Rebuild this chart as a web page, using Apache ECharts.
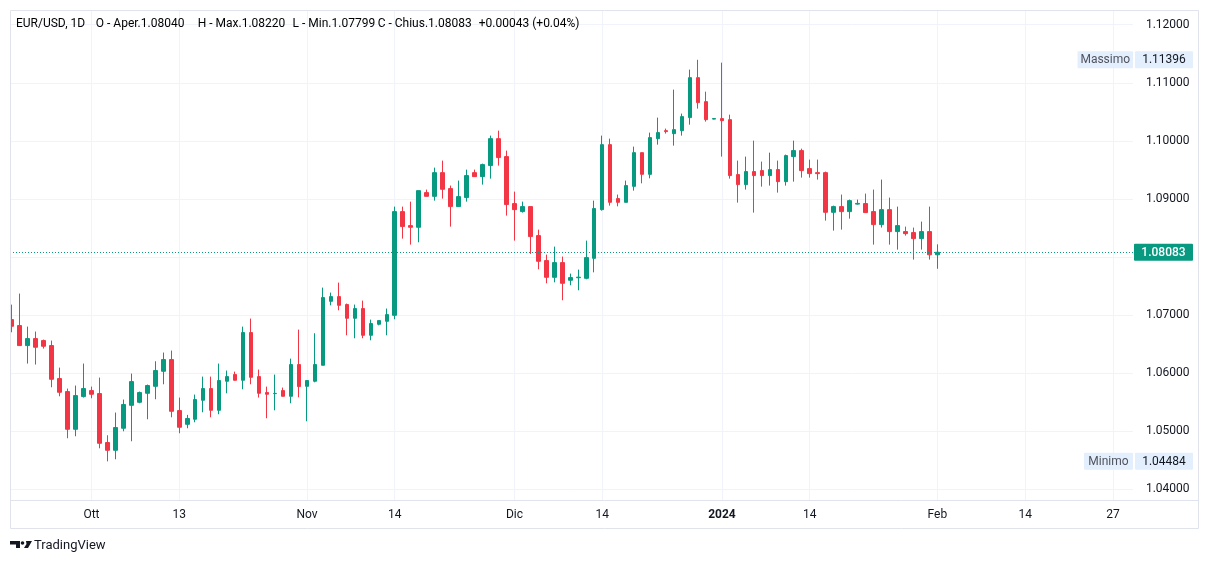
<!DOCTYPE html>
<html><head><meta charset="utf-8">
<script src="https://cdn.jsdelivr.net/npm/echarts@6/dist/echarts.min.js"></script>
<style>html,body{margin:0;padding:0;background:#fff}#c{width:1209px;height:564px}</style>
</head><body><div id="c"></div>
<script>
const symbolName = 'EUR/USD, 1D';
// trading days (Sun–Fri) shown on the time axis, incl. the empty future area
const calendar = [
  ['2023-09', [19,20,21,22,24,25,26,27,28,29]],
  ['2023-10', [1,2,3,4,5,6,8,9,10,11,12,13,15,16,17,18,19,20,22,23,24,25,26,27,29,30,31]],
  ['2023-11', [1,2,3,5,6,7,8,9,10,12,13,14,15,16,17,19,20,21,22,23,24,26,27,28,29,30]],
  ['2023-12', [1,3,4,5,6,7,8,10,11,12,13,14,15,17,18,19,20,21,22,24,25,26,27,28,29,31]],
  ['2024-01', [1,2,3,4,5,7,8,9,10,11,12,14,15,16,17,18,19,21,22,23,24,25,26,28,29,30,31]],
  ['2024-02', [1,2,4,5,6,7,8,9,11,12,13,14,15,16,18,19,20,21,22,23,25,26,27,28,29]]
];
const opens = [
 1.06924,1.06821,1.06477,1.06597,1.06563,1.06477,1.05909,1.05685,1.05036,1.05599,
 1.05702,1.05651,1.04808,1.04675,1.05054,1.05449,1.05501,1.05656,1.05776,1.06035,
 1.06236,1.05358,1.05122,1.05209,1.05536,1.05737,1.05363,1.05863,1.05978,1.05880,
 1.06701,1.05943,1.05668,1.05650,1.05702,1.05604,1.06150,1.05776,1.05863,1.06138,
 1.07239,1.07320,1.07183,1.06947,1.07114,1.06654,1.06844,1.06895,1.06998,1.08783,
 1.08542,1.08513,1.09110,1.09046,1.09454,1.09179,1.08869,1.09024,1.09454,1.09385,
 1.09575,1.10039,1.09730,1.08921,1.08783,1.08869,1.08370,1.07940,1.07652,1.07905,
 1.07601,1.07645,1.07635,1.07979,1.08817,1.09936,1.09007,1.08943,1.09218,1.09798,
 1.09425,1.10039,1.10177,1.10125,1.10177,1.10401,1.11089,1.10676,1.10375,1.10384,
 1.10366,1.09420,1.09248,1.09472,1.09489,1.09403,1.09506,1.09299,1.09730,1.09833,
 1.09523,1.09454,1.09454,1.08771,1.08869,1.08783,1.08912,1.08921,1.08783,1.08559,
 1.08817,1.08439,1.08439,1.08422,1.08318,1.08439,1.08040];
const highs = [
 1.07182,1.07372,1.06804,1.06718,1.06580,1.06563,1.06098,1.05737,1.05789,1.06167,
 1.05771,1.05926,1.04933,1.05324,1.05548,1.05995,1.05685,1.05806,1.06207,1.06357,
 1.06391,1.05582,1.05284,1.05634,1.05943,1.05943,1.06167,1.06047,1.06029,1.06804,
 1.06942,1.06064,1.05771,1.05978,1.05754,1.06253,1.06752,1.05875,1.06689,1.07475,
 1.07389,1.07561,1.07200,1.07183,1.07251,1.06924,1.06907,1.07114,1.08869,1.08869,
 1.08955,1.09144,1.09162,1.09540,1.09661,1.09231,1.09317,1.09506,1.09506,1.09609,
 1.10091,1.10177,1.09833,1.09127,1.08955,1.08869,1.08473,1.08043,1.08181,1.08009,
 1.07716,1.07785,1.08284,1.08972,1.10091,1.10039,1.09076,1.09317,1.09902,1.09798,
 1.10143,1.10401,1.10212,1.10883,1.10470,1.11227,1.11396,1.10848,1.10390,1.11347,
 1.10452,1.09661,1.09730,1.10005,1.09644,1.09798,1.09661,1.09764,1.10005,1.09867,
 1.09678,1.09678,1.09472,1.08886,1.09076,1.08990,1.08990,1.09093,1.09162,1.09334,
 1.09024,1.08869,1.08525,1.08508,1.08611,1.08869,1.08220];
const lows = [
 1.06706,1.06470,1.06167,1.06150,1.06425,1.05759,1.05604,1.04882,1.04916,1.05582,
 1.05570,1.04709,1.04484,1.04520,1.05002,1.04830,1.05484,1.05209,1.05553,1.05811,
 1.05243,1.04968,1.05054,1.05157,1.05329,1.05243,1.05295,1.05656,1.05875,1.05725,
 1.05811,1.05582,1.05226,1.05363,1.05604,1.05484,1.05587,1.05174,1.05845,1.06138,
 1.07170,1.07084,1.06654,1.06603,1.06603,1.06568,1.06826,1.06654,1.06930,1.08318,
 1.08215,1.08255,1.09046,1.08972,1.09007,1.08525,1.08869,1.08955,1.09385,1.09248,
 1.09351,1.09575,1.08714,1.08284,1.08766,1.08055,1.07790,1.07549,1.07566,1.07257,
 1.07515,1.07429,1.07618,1.07738,1.08800,1.08886,1.08874,1.08943,1.09144,1.09270,
 1.09356,1.09936,1.10126,1.09919,1.10091,1.10280,1.10556,1.10332,1.10370,1.09730,
 1.09351,1.08938,1.09162,1.08766,1.09213,1.09231,1.09110,1.09231,1.09299,1.09368,
 1.09368,1.09334,1.08628,1.08456,1.08473,1.08663,1.08904,1.08766,1.08215,1.08508,
 1.08215,1.08129,1.08370,1.07957,1.08129,1.07957,1.07799];
const closes = [
 1.06809,1.06477,1.06597,1.06448,1.06465,1.05897,1.05673,1.05036,1.05616,1.05737,
 1.05639,1.04795,1.04675,1.05066,1.05462,1.05857,1.05668,1.05789,1.06047,1.06236,
 1.05346,1.05071,1.05221,1.05548,1.05737,1.05363,1.05875,1.05943,1.05880,1.06701,
 1.05931,1.05656,1.05639,1.05655,1.05604,1.06150,1.05771,1.05875,1.06150,1.07303,
 1.07320,1.07170,1.06947,1.07114,1.06654,1.06856,1.06907,1.07010,1.08783,1.08525,
 1.08513,1.09144,1.09046,1.09454,1.09167,1.08869,1.09041,1.09403,1.09385,1.09592,
 1.10039,1.09713,1.08904,1.08817,1.08869,1.08353,1.07928,1.07652,1.07905,1.07549,
 1.07647,1.07655,1.07991,1.08835,1.09936,1.08943,1.08943,1.09231,1.09798,1.09425,
 1.10057,1.10143,1.10160,1.10194,1.10418,1.11089,1.10659,1.10366,1.10385,1.10349,
 1.09403,1.09248,1.09472,1.09403,1.09403,1.09506,1.09299,1.09747,1.09833,1.09489,
 1.09437,1.09437,1.08771,1.08869,1.08783,1.08972,1.08924,1.08766,1.08559,1.08817,
 1.08439,1.08542,1.08404,1.08318,1.08439,1.08040,1.08083];
const xTickLabels = [
 ['2023-10-01','Ott'],['2023-10-13','13'],['2023-11-01','Nov'],['2023-11-14','14'],
 ['2023-12-01','Dic'],['2023-12-14','14'],['2024-01-01','2024'],['2024-01-14','14'],
 ['2024-02-01','Feb'],['2024-02-14','14'],['2024-02-27','27']];
const boldTicks = ['2024'];
const yTicks = [1.04,1.05,1.06,1.07,1.08,1.09,1.10,1.11,1.12];
const maxLabel = ['Massimo', 1.11396];
const minLabel = ['Minimo', 1.04484];

const categories = [];
calendar.forEach(([m, days]) => days.forEach(d => categories.push(m + '-' + String(d).padStart(2, '0'))));
const labelMap = Object.fromEntries(xTickLabels);
const candles = opens.map((o, i) => [o, closes[i], lows[i], highs[i]]);
const last = closes.length - 1;

const UP = '#089981', DOWN = '#F23645', TEXT = '#131722', GRID = '#f0f3fa', BORDER = '#e0e3eb';
const FONT = 'Roboto, "Noto Sans", sans-serif';

const chart = echarts.init(document.getElementById('c'));
chart.setOption({
  animation: false,
  backgroundColor: '#ffffff',
  grid: { left: 7.7, right: 76.1, top: 10.6, bottom: 62.9 },
  xAxis: {
    type: 'category', data: categories, boundaryGap: true,
    axisLine: { show: false }, axisTick: { show: false }, splitLine: { show: false },
    axisLabel: {
      interval: (i, v) => labelMap[v] !== undefined,
      formatter: v => boldTicks.includes(labelMap[v]) ? '{b|' + labelMap[v] + '}' : (labelMap[v] || ''),
      color: TEXT, fontSize: 12, fontFamily: FONT, margin: 7.4,
      rich: { b: { fontWeight: 'bold', color: TEXT, fontSize: 12, fontFamily: FONT } }
    }
  },
  yAxis: {
    type: 'value', position: 'right', min: 1.038, max: 1.12243,
    axisLine: { show: false }, axisTick: { show: false }, splitLine: { show: false },
    axisLabel: { customValues: yTicks, formatter: v => v.toFixed(5), color: TEXT, fontSize: 12, fontFamily: FONT, margin: 13 }
  },
  series: [
    {
      type: 'line', data: [], silent: true, z: 1,
      markLine: {
        silent: true, symbol: 'none', z: 1, animation: false,
        label: { show: false },
        lineStyle: { color: GRID, type: 'solid', width: 1 },
        data: [...yTicks.map(v => ({ yAxis: v })), ...xTickLabels.map(t => ({ xAxis: t[0] }))]
      }
    },
    {
      type: 'candlestick', data: candles, barWidth: 4, z: 3,
      itemStyle: { color: UP, color0: DOWN, borderColor: UP, borderColor0: DOWN, borderWidth: 1 }
    }
  ]
});

const yPix = v => chart.convertToPixel({ yAxisIndex: 0 }, v);
const chg = closes[last] - closes[last - 1];
const pct = chg / closes[last - 1] * 100;
const sgn = x => (x >= 0 ? '+' : '');
const headerItems = [
  [16, '{l|' + symbolName + '}'],
  [95.8, '{l|O - Aper.}{v|' + opens[last].toFixed(5) + '}'],
  [197.7, '{l|H - Max.}{v|' + highs[last].toFixed(5) + '}'],
  [292.6, '{l|L - Min.}{v|' + lows[last].toFixed(5) + '}'],
  [377.7, '{l|C - Chius.}{v|' + closes[last].toFixed(5) + '}'],
  [478.8, '{v|' + sgn(chg) + chg.toFixed(5) + ' (' + sgn(pct) + pct.toFixed(2) + '%)}']
];
const rich = { l: { color: TEXT, fontSize: 12, fontFamily: FONT }, v: { color: UP, fontSize: 12, fontFamily: FONT } };

function tag(x, w, y, txt, fill, color, weight) {
  return [
    { type: 'rect', z: 110, shape: { x: x, y: y - 8.5, width: w, height: 17, r: 1 }, style: { fill: fill } },
    { type: 'text', z: 111, x: x + w / 2, y: y + 0.5, style: { text: txt, fill: color, font: (weight || 'normal') + ' 12px ' + FONT, textAlign: 'center', textVerticalAlign: 'middle' } }
  ];
}
const yMax = yPix(maxLabel[1]), yMin = yPix(minLabel[1]), yCur = yPix(closes[last]);
const yCurLine = Math.round(yCur) + 0.5;
const graphics = [
  { type: 'line', z: 90, shape: { x1: 10, y1: yCurLine, x2: 1133, y2: yCurLine }, style: { stroke: UP, lineWidth: 1, lineDash: [1, 2] } },
  { type: 'rect', z: 100, shape: { x: 0, y: 10, width: 10, height: 491 }, style: { fill: '#ffffff' } },
  { type: 'rect', z: 101, shape: { x: 10.5, y: 10.5, width: 1188, height: 518 }, style: { fill: null, stroke: BORDER, lineWidth: 1 } },
  { type: 'line', z: 101, shape: { x1: 10, y1: 500.5, x2: 1199, y2: 500.5 }, style: { stroke: BORDER, lineWidth: 1 } },
  ...headerItems.map(([x, t]) => ({ type: 'text', z: 105, x: x, y: 24, style: { text: t, rich: rich, textVerticalAlign: 'middle' } })),
  ...tag(1134, 59, yCur, closes[last].toFixed(5), UP, '#ffffff', '500'),
  ...tag(1077.5, 55.5, yMax, maxLabel[0], '#e3effd', '#50535e'),
  ...tag(1135, 58, yMax, maxLabel[1].toFixed(5), '#e3effd', TEXT),
  ...tag(1084, 49, yMin, minLabel[0], '#e3effd', '#50535e'),
  ...tag(1135, 58, yMin, minLabel[1].toFixed(5), '#e3effd', TEXT),
  // TradingView logo + wordmark
  { type: 'polygon', z: 105, shape: { points: [[10, 541], [20, 541], [20, 548], [16, 548], [16, 544.5], [10, 544.5]] }, style: { fill: TEXT } },
  { type: 'circle', z: 105, shape: { cx: 22.5, cy: 543, r: 1.8 }, style: { fill: TEXT } },
  { type: 'polygon', z: 105, shape: { points: [[26, 541], [32, 541], [28, 548], [24, 548], [26.5, 544]] }, style: { fill: TEXT } },
  { type: 'text', z: 105, x: 34, y: 546, style: { text: 'TradingView', fill: TEXT, font: '13px ' + FONT, textVerticalAlign: 'middle' } }
];
chart.setOption({ graphic: graphics });
</script>
</body></html>
